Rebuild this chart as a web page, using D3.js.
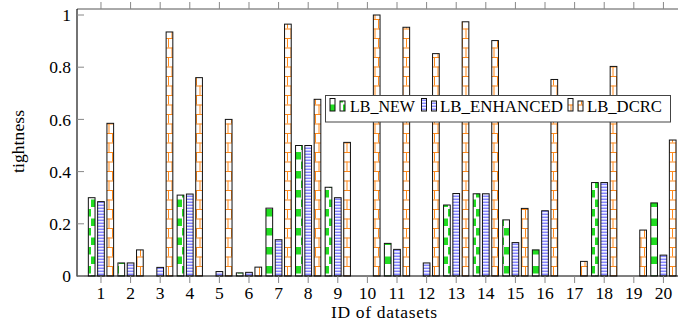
<!DOCTYPE html>
<html><head><meta charset="utf-8">
<script src="https://cdn.jsdelivr.net/npm/d3@7"></script>
<style>
html,body{margin:0;padding:0;background:#fff;}
svg{display:block;}
</style></head>
<body>
<svg id="chart" width="678" height="327" font-family="'Liberation Serif', 'DejaVu Serif', serif"></svg>
<script>
const categories = d3.range(1, 21);
const seriesNames = ["LB_NEW", "LB_ENHANCED", "LB_DCRC"];
const lbNew = [0.30,0.05,0,0.31,0,0.012,0.26,0.50,0.34,0,0.125,0,0.272,0.315,0.215,0.10,0,0.358,0,0.28];
const lbEnhanced = [0.285,0.05,0.033,0.314,0.017,0.014,0.139,0.50,0.30,0,0.102,0.05,0.316,0.315,0.128,0.25,0,0.358,0,0.08];
const lbDcrc = [0.585,0.10,0.935,0.76,0.60,0.034,0.965,0.677,0.512,1.0,0.953,0.852,0.974,0.902,0.259,0.753,0.056,0.803,0.176,0.521];
const yTicks = [0, 0.2, 0.4, 0.6, 0.8, 1];
const yTickLabels = ["0", "0.2", "0.4", "0.6", "0.8", "1"];

const FONT = "'Liberation Serif', 'DejaVu Serif', serif";
const svg = d3.select("#chart");
const x = d3.scaleLinear().domain([0.19, 20.81]).range([77, 687.4]);
const y = d3.scaleLinear().domain([0, 1.023]).range([276, 9]);
const unit = x(2) - x(1);
const barW = unit * 0.226;
const offs = [-0.314, 0, 0.314];

const defs = svg.append("defs");
const pg = defs.append("pattern").attr("id","pNew").attr("patternUnits","userSpaceOnUse")
  .attr("width",14).attr("height",19);
pg.append("rect").attr("width",14).attr("height",19).attr("fill","#fff");
pg.append("rect").attr("x",0).attr("y",0).attr("width",7).attr("height",7.5).attr("fill","#22dd22");
pg.append("rect").attr("x",7).attr("y",9.5).attr("width",7).attr("height",7.5).attr("fill","#22dd22");
const pb = defs.append("pattern").attr("id","pEnh").attr("patternUnits","userSpaceOnUse")
  .attr("width",6).attr("height",3);
pb.append("rect").attr("width",6).attr("height",3).attr("fill","#fff");
pb.append("rect").attr("y",0.5).attr("width",6).attr("height",1.6).attr("fill","#8585ff");
const po = defs.append("pattern").attr("id","pDcrc").attr("patternUnits","userSpaceOnUse")
  .attr("width",7).attr("height",19);
po.append("rect").attr("width",7).attr("height",19).attr("fill","#fff");
const oc = "#ff8a1c";
po.append("rect").attr("x",0).attr("y",0).attr("width",7).attr("height",1).attr("fill",oc);
po.append("rect").attr("x",0).attr("y",9.5).attr("width",7).attr("height",1).attr("fill",oc);
po.append("rect").attr("x",0).attr("y",0).attr("width",1).attr("height",9.5).attr("fill",oc);
po.append("rect").attr("x",3.5).attr("y",9.5).attr("width",1).attr("height",9.5).attr("fill",oc);

const fills = ["url(#pNew)","url(#pEnh)","url(#pDcrc)"];
const series = [lbNew, lbEnhanced, lbDcrc];

series.forEach((vals, si) => {
  svg.append("g").selectAll("rect").data(vals).join("rect")
    .attr("x", (d,i) => x(categories[i] + offs[si]) - barW/2)
    .attr("y", d => y(d))
    .attr("width", barW)
    .attr("height", d => y(0) - y(d))
    .attr("fill", fills[si])
    .attr("stroke", "#111")
    .attr("stroke-width", 1);
});

const g = svg.append("g");
g.append("line").attr("x1",77).attr("x2",678).attr("y1",9).attr("y2",9).attr("stroke","#555").attr("stroke-width",1);
g.append("line").attr("x1",77).attr("x2",77).attr("y1",9).attr("y2",276.5).attr("stroke","#000").attr("stroke-width",1.1);
g.append("line").attr("x1",77).attr("x2",678).attr("y1",276).attr("y2",276).attr("stroke","#000").attr("stroke-width",1.1);

yTicks.forEach((t,i) => {
  g.append("line").attr("x1",77).attr("x2",84).attr("y1",y(t)).attr("y2",y(t)).attr("stroke","#888");
  g.append("text").attr("x",71).attr("y",y(t)).attr("dy","0.35em").attr("text-anchor","end")
    .attr("font-family",FONT).attr("font-size",17.5).text(yTickLabels[i]);
});
categories.forEach(c => {
  g.append("line").attr("x1",x(c)).attr("x2",x(c)).attr("y1",276).attr("y2",283).attr("stroke","#888");
  g.append("line").attr("x1",x(c)).attr("x2",x(c)).attr("y1",2).attr("y2",9).attr("stroke","#888");
  g.append("text").attr("x",x(c)).attr("y",299).attr("text-anchor","middle")
    .attr("font-family",FONT).attr("font-size",17.5).text(c);
});

svg.append("text").attr("x",331).attr("y",318)
  .attr("textLength",106).attr("lengthAdjust","spacing")
  .attr("font-family",FONT).attr("font-size",17.5).text("ID of datasets");
svg.append("text").attr("transform","translate(24,173) rotate(-90)")
  .attr("textLength",63).attr("lengthAdjust","spacing")
  .attr("font-family",FONT).attr("font-size",17.5).text("tightness");

const lg = svg.append("g");
lg.append("rect").attr("x",325.5).attr("y",95.5).attr("width",345).attr("height",26.5)
  .attr("fill","#fff").attr("stroke","#444").attr("stroke-width",1);
const legX = [330, 421.5, 568];
const textX = [350, 440, 587];
const textL = [65, 123, 75];
seriesNames.forEach((n,i) => {
  lg.append("rect").attr("x",legX[i]).attr("y",98.5).attr("width",5).attr("height",12.5)
    .attr("fill",fills[i]).attr("stroke","#111").attr("stroke-width",1);
  lg.append("rect").attr("x",legX[i]+10).attr("y",101).attr("width",5).attr("height",10)
    .attr("fill",fills[i]).attr("stroke","#111").attr("stroke-width",1);
  lg.append("text").attr("x",textX[i]).attr("y",112).attr("textLength",textL[i]).attr("lengthAdjust","spacingAndGlyphs")
    .attr("font-family",FONT).attr("font-size",17).text(n);
});
</script>
</body></html>
